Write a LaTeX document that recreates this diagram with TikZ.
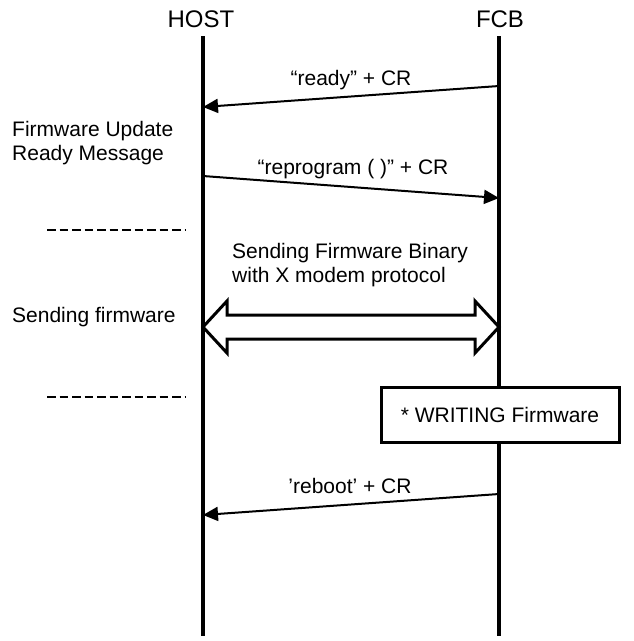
\documentclass[tikz,border=0pt]{standalone}
\usepackage{fontspec}
\setmainfont{Liberation Sans}
\usetikzlibrary{arrows.meta,calc}
\tikzset{
  lifeline/.style={line width=3.5pt},
  msg/.style={line width=2pt,-{Triangle[length=15pt,width=14pt]}},
  msgtext/.style={font=\fontsize{21}{24}\selectfont, inner sep=0pt},
  sidetext/.style={font=\fontsize{21}{24}\selectfont, inner sep=0pt, anchor=west, align=left},
  title/.style={font=\fontsize{24}{27}\selectfont, inner sep=0pt},
  sep/.style={line width=2pt, dash pattern=on 8.5pt off 4pt},
  bigarrow/.style={line width=3pt, fill=white, line join=miter},
  procbox/.style={draw, line width=3pt, fill=white, minimum width=238pt, minimum height=55pt, font=\fontsize{21}{24}\selectfont, inner sep=0pt}
}
\begin{document}
\begin{tikzpicture}[x=1pt,y=-1pt]
\useasboundingbox (0,0) rectangle (634,641);
% titles
\node[title] (host) at (201,19.5) {HOST};
\node[title] (fcb) at (500,19.5) {FCB};
% lifelines
\coordinate (h0) at (203,36);
\coordinate (h1) at (203,636);
\coordinate (f0) at (499,36);
\coordinate (f1) at (499,636);
\draw[lifeline] (h0) -- (h1);
\draw[lifeline] (f0) -- (f1);
% ready
\coordinate (m1a) at (499,86);
\coordinate (m1b) at (203,107);
\draw[msg] (m1a) -- (m1b);
\node[msgtext] (t1) at (351,80) {“ready” + CR};
% side text
\node[sidetext] (s1) at (12,143) {Firmware Update\\Ready Message};
% reprogram
\coordinate (m2a) at (203,176);
\coordinate (m2b) at (499,198);
\draw[msg] (m2a) -- (m2b);
\node[msgtext] (t2) at (353,169) {“reprogram ( )” + CR};
% separators
\coordinate (d1a) at (47,230);
\coordinate (d1b) at (185,230);
\draw[sep] (d1a) -- (d1b);
\coordinate (d2a) at (47,397);
\coordinate (d2b) at (185,397);
\draw[sep] (d2a) -- (d2b);
% sending firmware
\node[sidetext] (t3) at (232,265) {Sending Firmware Binary\\with X modem protocol};
\node[sidetext] (s2) at (12,317) {Sending firmware};
\coordinate (da) at (203,327);
\coordinate (db) at (499,327);
\draw[bigarrow] (da) -- ++(24,-26) -- ++(0,14) -- ($(db)+(-24,-12)$) -- ++(0,-14) -- (db)
  -- ++(-24,26) -- ++(0,-14) -- ($(da)+(24,12)$) -- ++(0,14) -- cycle;
% writing box
\node[procbox] (wb) at (500,415) {* WRITING Firmware};
% reboot
\coordinate (m3a) at (499,494);
\coordinate (m3b) at (203,515);
\draw[msg] (m3a) -- (m3b);
\node[msgtext] (t4) at (350,486) {’reboot’ + CR};
\end{tikzpicture}
\end{document}
